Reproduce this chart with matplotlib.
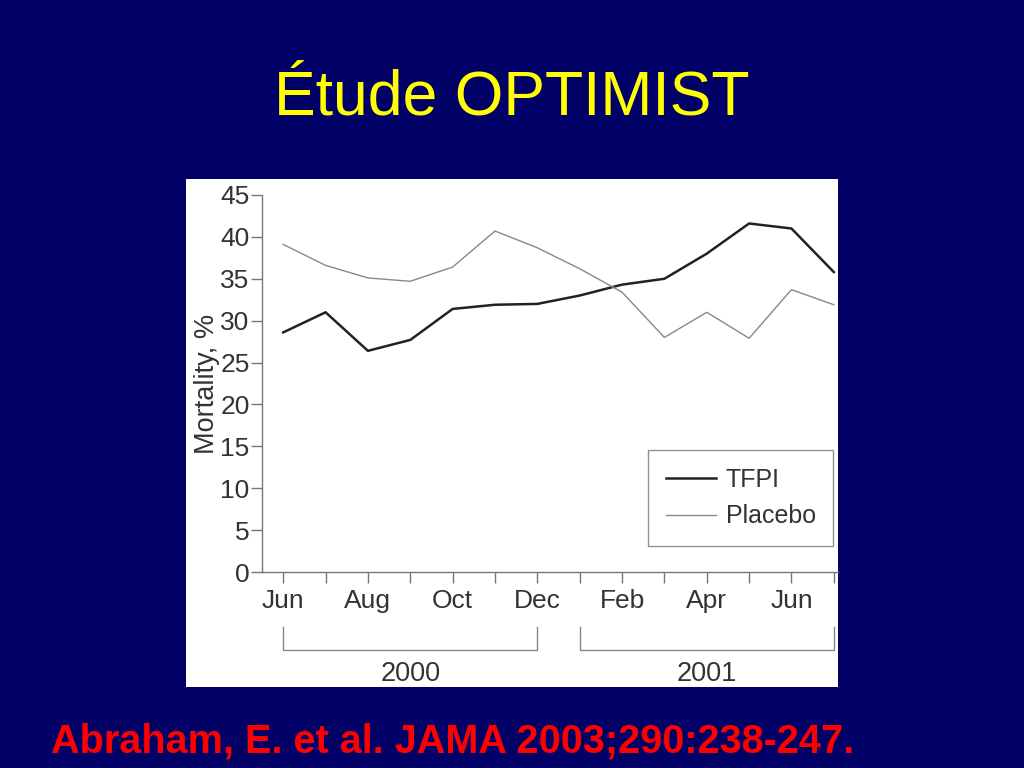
import matplotlib.pyplot as plt
from matplotlib.patches import Rectangle
from matplotlib.lines import Line2D

# Mortalité mensuelle (%) - étude OPTIMIST, juin 2000 -> juillet 2001
months = ["Jun", "Jul", "Aug", "Sep", "Oct", "Nov", "Dec",
          "Jan", "Feb", "Mar", "Apr", "May", "Jun", "Jul"]
tick_labels = ["Jun", "", "Aug", "", "Oct", "", "Dec",
               "", "Feb", "", "Apr", "", "Jun", ""]
tfpi = [28.6, 31.0, 26.4, 27.7, 31.4, 31.9, 32.0,
        33.0, 34.3, 35.0, 38.0, 41.6, 41.0, 35.8]
placebo = [39.1, 36.6, 35.1, 34.7, 36.4, 40.7, 38.7,
           36.2, 33.4, 28.0, 31.0, 27.9, 33.7, 31.9]
years = ["2000", "2001"]
year_spans = [(0, 6), (7, 13)]
yticks = [0, 5, 10, 15, 20, 25, 30, 35, 40, 45]

bg = "#000066"
txt = "#333333"

plt.rcParams['font.family'] = ['Liberation Sans', 'DejaVu Sans']
fig = plt.figure(figsize=(10.24, 7.68), dpi=100, facecolor=bg)

# panneau blanc derrière le graphique
fig.patches.append(Rectangle((0.1816, 0.1055), 0.6367, 0.6615,
                             transform=fig.transFigure, facecolor="white",
                             edgecolor="none", zorder=-5))

fig.text(0.5, 0.873, "Étude OPTIMIST", color="#ffff00", fontsize=45,
         ha="center", va="center")
fig.text(0.442, 0.034, "Abraham, E. et al. JAMA 2003;290:238-247.",
         color="#ff0000", fontsize=28.5, fontweight="bold", ha="center",
         va="center")

ax = fig.add_axes([0.2559, 0.2552, 0.8184 - 0.2559, 0.7461 - 0.2552])
ax.set_facecolor("none")
x = list(range(len(months)))
ax.plot(x, tfpi, color="#222222", lw=1.8, label="TFPI", clip_on=False)
ax.plot(x, placebo, color="#888888", lw=1.0, label="Placebo", clip_on=False)

ax.set_xlim(-0.5, 13.1)
ax.set_ylim(0, 45)
ax.set_yticks(yticks)
ax.set_xticks(x)
ax.set_xticklabels(tick_labels)
for s in ["top", "right"]:
    ax.spines[s].set_visible(False)
for s in ["left", "bottom"]:
    ax.spines[s].set_color("#777777")
    ax.spines[s].set_linewidth(1.0)
ax.tick_params(axis="both", colors="#777777", labelcolor=txt, labelsize=19,
               length=8, width=1.0, direction="out")
ax.tick_params(axis="x", pad=4)
ax.tick_params(axis="y", pad=1)
ax.set_ylabel("Mortality, %", fontsize=19.5, color=txt, labelpad=0)

leg = ax.legend(loc="lower right", bbox_to_anchor=(0.992, 0.069),
                borderaxespad=0, fontsize=18, frameon=True, fancybox=False,
                handlelength=2.0, handletextpad=0.4, borderpad=0.7,
                labelspacing=0.5, edgecolor="#777777")
for t in leg.get_texts():
    t.set_color(txt)

# crochets des années sous l'axe
tr = ax.get_xaxis_transform()
for yr, (a, b) in zip(years, year_spans):
    ax.add_line(Line2D([a, a, b, b], [-0.146, -0.207, -0.207, -0.146],
                       transform=tr, color="#888888", lw=1.0, clip_on=False))
    ax.text((a + b) / 2, -0.27, yr, transform=tr, ha="center", va="center",
            fontsize=19.5, color=txt)

fig.savefig("out.png", dpi=100, facecolor=bg)
